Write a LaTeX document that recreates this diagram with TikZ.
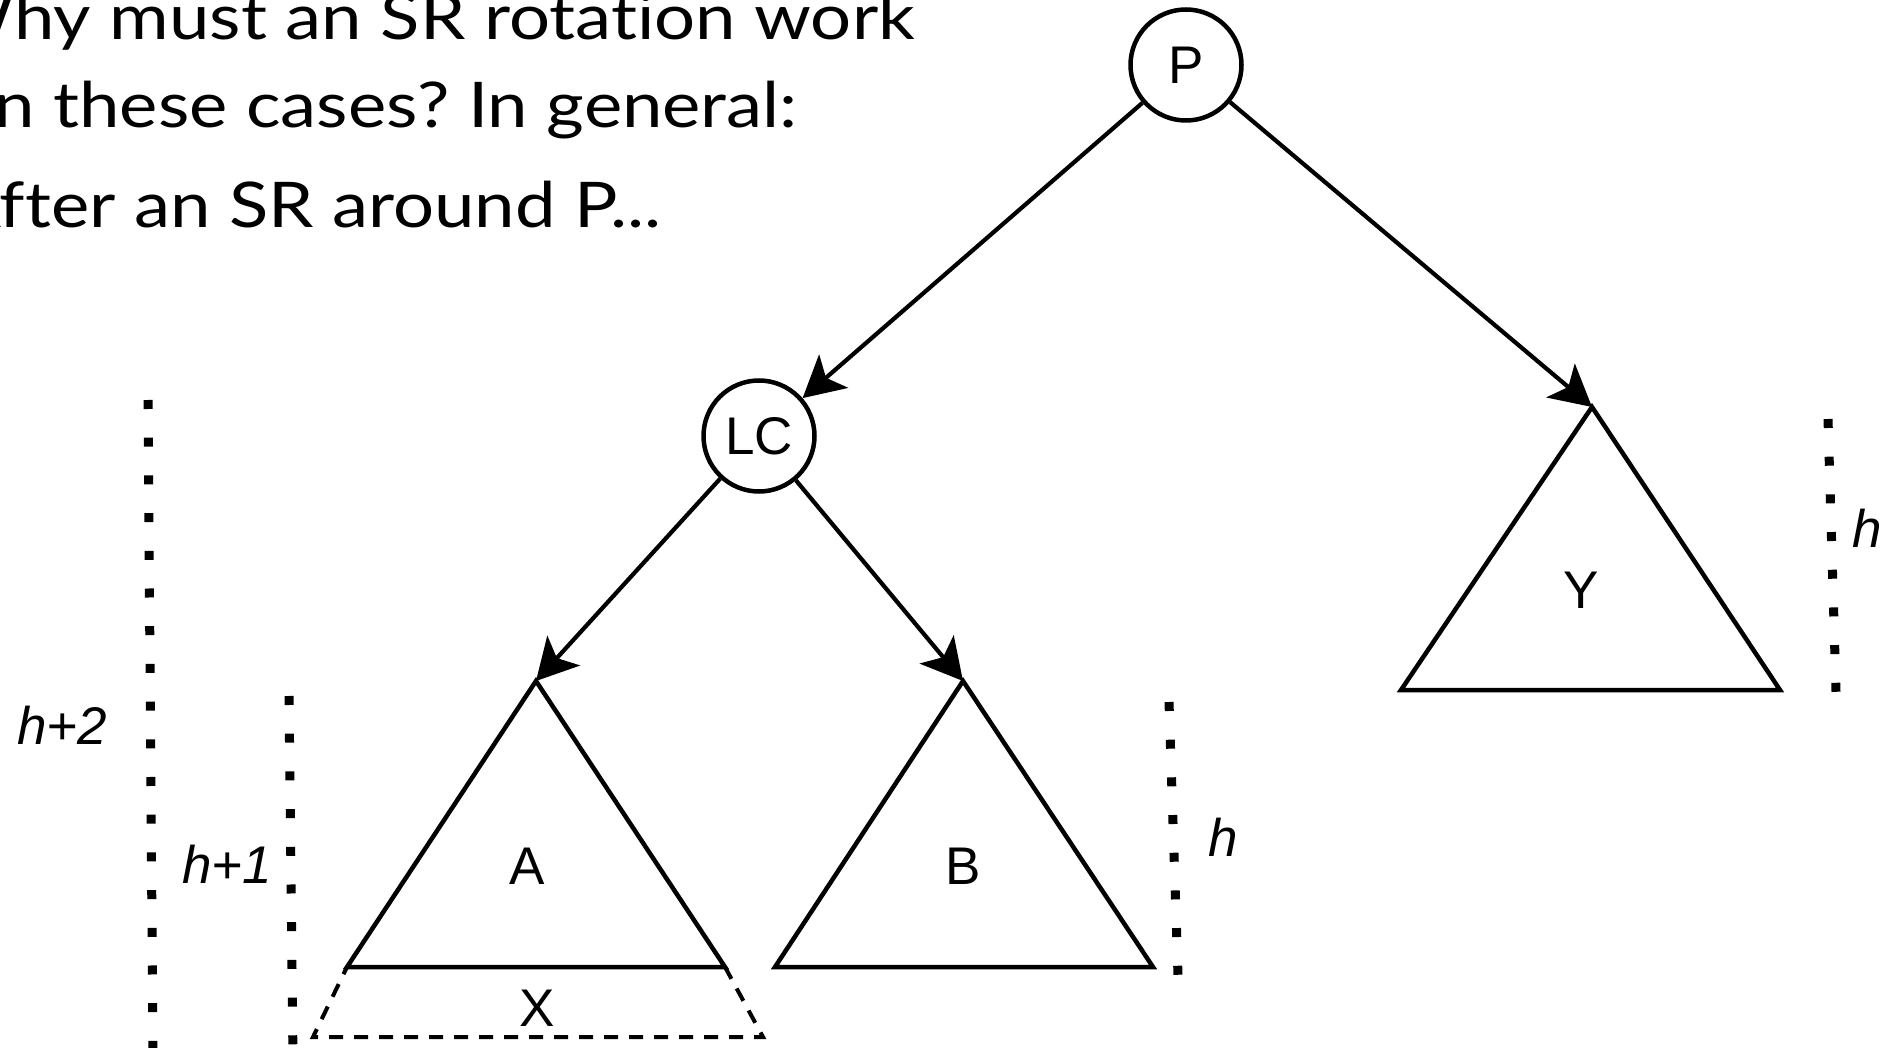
\documentclass[tikz,border=0pt]{standalone}
\usepackage{fontspec}
\setmainfont{Liberation Sans}
\newfontfamily\titlefont[FakeStretch=1.15,Ligatures={NoCommon,NoRare,NoDiscretionary}]{Lato}
\usetikzlibrary{arrows.meta}
\frenchspacing
\begin{document}
\begin{tikzpicture}[x=1pt,y=-1pt,
  circ/.style={circle, draw, line width=4.5pt, minimum size=111pt, inner sep=0pt, font=\fontsize{53}{60}\selectfont},
  arr/.style={line width=4.2pt, -{Stealth[length=41pt,width=44pt,inset=10pt]}},
  tri/.style={line width=4.5pt, line join=miter},
  lbl/.style={font=\fontsize{53}{60}\selectfont, inner sep=0pt},
  hl/.style={font=\fontsize{53}{60}\selectfont\itshape, inner sep=0pt},
  dots/.style={line width=9pt, dash pattern=on 9pt off 28.7pt},
  xdash/.style={line width=4pt, dash pattern=on 14pt off 11pt},
  title/.style={font=\titlefont\fontsize{63}{70}\selectfont, anchor=base east, inner sep=0pt}
]
\useasboundingbox (0,0) rectangle (1888,1048);
\clip (0,0) rectangle (1888,1048);

% title text
\node[title] (t1) at (915,40) {Why must an SR rotation work};
\node[title] (t2) at (798,128) {in these cases? In general:};
\node[title] (t3) at (662,228) {After an SR around P...};

% tree nodes
\node[circ] (P) at (1186,65) {P};
\node[circ] (LC) at (759,436) {LC};

% subtree triangles
\coordinate (Atop) at (536,681);
\coordinate (Aleft) at (347,967);
\coordinate (Aright) at (725,967);
\coordinate (Btop) at (963,681);
\coordinate (Bleft) at (775,967);
\coordinate (Bright) at (1153,967);
\coordinate (Ytop) at (1592,407);
\coordinate (Yleft) at (1401,690);
\coordinate (Yright) at (1780,690);
\coordinate (Xbl) at (313,1037);
\coordinate (Xbr) at (763,1037);

\draw[tri] (Atop) -- (Aleft) -- (Aright) -- cycle;
\draw[tri] (Btop) -- (Bleft) -- (Bright) -- cycle;
\draw[tri] (Ytop) -- (Yleft) -- (Yright) -- cycle;
\draw[xdash, dash phase=6pt] (Aleft) -- (Xbl) -- (Xbr) -- (Aright);

\node[lbl] (A) at (527,866) {A};
\node[lbl] (B) at (963,866) {B};
\node[lbl] (Y) at (1581,590) {Y};
\node[lbl] (X) at (537,1008) {X};

% connectors
\draw[arr] (P) -- (LC);
\draw[arr] (P) -- (Ytop);
\draw[arr] (LC) -- (Atop);
\draw[arr] (LC) -- (Btop);

% height markers
\coordinate (d1a) at (148,400);
\coordinate (d1b) at (153,1060);
\coordinate (d2a) at (289,696);
\coordinate (d2b) at (293,1060);
\coordinate (d3a) at (1169,702);
\coordinate (d3b) at (1178,975);
\coordinate (d4a) at (1828,419);
\coordinate (d4b) at (1836,692);
\draw[dots] (d1a) -- (d1b);
\draw[dots] (d2a) -- (d2b);
\draw[dots] (d3a) -- (d3b);
\draw[dots] (d4a) -- (d4b);

\node[hl] (h2) at (62,725) {h+2};
\node[hl] (h1) at (227,864) {h+1};
\node[hl] (hB) at (1223,837) {h};
\node[hl] (hY) at (1867,528) {h};
\end{tikzpicture}
\end{document}
